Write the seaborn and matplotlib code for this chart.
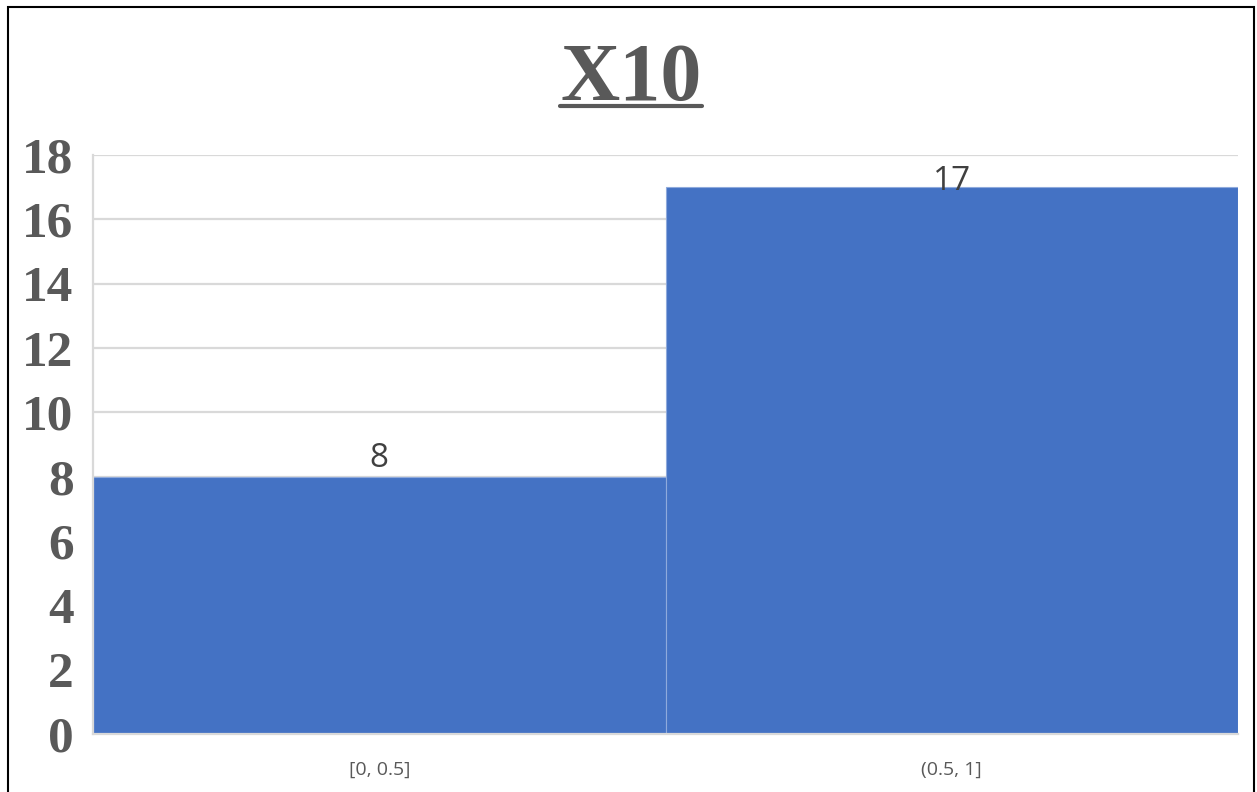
import matplotlib
matplotlib.use("Agg")
import matplotlib.pyplot as plt
from matplotlib.patches import Rectangle
from matplotlib.lines import Line2D
import seaborn as sns
import pandas as pd

# Histogram bins and counts
bins = ["[0, 0.5]", "(0.5, 1]"]
counts = [8, 17]
title = "X10"
y_ticks = [0, 2, 4, 6, 8, 10, 12, 14, 16, 18]

BAR = "#4472C4"
TEXT = "#595959"
GRID = "#D9D9D9"

sns.set_theme(style="white")

df = pd.DataFrame({"bin": bins, "count": counts})

fig = plt.figure(figsize=(12.57, 7.92), dpi=100)
ax = fig.add_axes([0.074, 0.0732, 0.911, 0.7311])

sns.barplot(data=df, x="bin", y="count", color=BAR, width=1.0,
            saturation=1, edgecolor="#8FAADC", linewidth=0.8, ax=ax, zorder=3)

ymax = y_ticks[-1]
ax.set_ylim(0, ymax)
ax.set_xlim(-0.5, len(bins) - 0.5)
ax.set_yticks(y_ticks)
ax.set_yticklabels([str(t) for t in y_ticks], fontfamily="Liberation Serif",
                   fontweight="bold", fontsize=37, color=TEXT)
ax.set_xticks(range(len(bins)))
ax.set_xticklabels(bins, fontfamily="Open Sans", fontsize=14, color=TEXT)
ax.tick_params(axis="y", length=0, pad=14)
ax.tick_params(axis="x", length=0, pad=19)
ax.set_xlabel("")
ax.set_ylabel("")

ax.yaxis.grid(True, color=GRID, linewidth=1.6, zorder=0)
ax.set_axisbelow(True)
for side in ("top", "right"):
    ax.spines[side].set_visible(False)
for side in ("left", "bottom"):
    ax.spines[side].set_color(GRID)
    ax.spines[side].set_linewidth(1.6)
    ax.spines[side].set_zorder(4)

# Value labels above each bar, kept inside the plot area near the top
for i, v in enumerate(counts):
    y = min(v + 0.3, ymax - 1.1)
    ax.text(i, y, str(v), ha="center", va="baseline", fontfamily="Open Sans",
            fontsize=24, color="#404040", zorder=5)

# Underlined title
t = fig.text(0.502, 0.8737, title, ha="center", va="baseline",
             fontfamily="Liberation Serif", fontweight="bold", fontsize=59,
             color=TEXT)
fig.canvas.draw()
bb = t.get_window_extent().transformed(fig.transFigure.inverted())
uy = (792 - 106) / 792
fig.add_artist(Line2D([bb.x0, bb.x1], [uy, uy], color=TEXT, linewidth=3,
                      transform=fig.transFigure))

# Frame around the chart
fig.add_artist(Rectangle((8 / 1257, -0.05), 1246 / 1257, (792 - 7) / 792 + 0.05,
                         fill=False, edgecolor="black", linewidth=1.5,
                         transform=fig.transFigure))

fig.savefig("out.png", dpi=100, facecolor="white")
